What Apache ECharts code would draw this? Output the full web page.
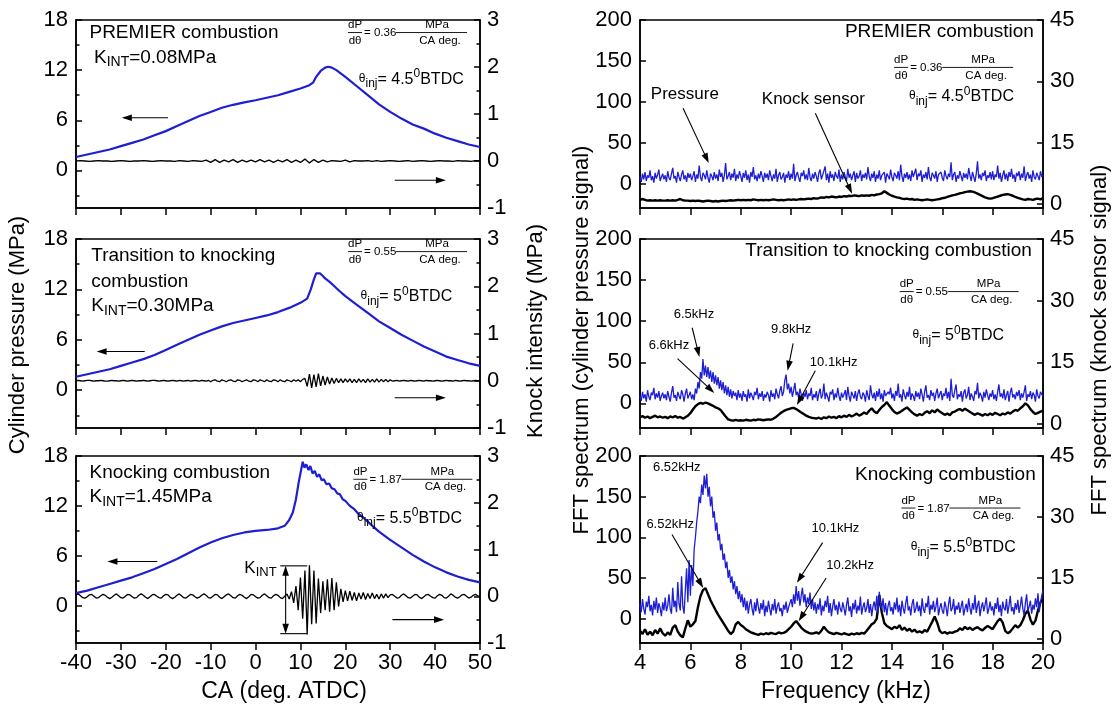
<!DOCTYPE html>
<html><head><meta charset="utf-8">
<script src="https://cdn.jsdelivr.net/npm/echarts@6/dist/echarts.min.js"></script>
<style>html,body{margin:0;padding:0;background:#fff}#c{width:1115px;height:714px}</style>
</head><body><div id="c"></div>
<script>
const FONT = 'Liberation Sans';
const BLUE = '#1e1ed2';

// ---------------- axes / ticks ----------------
const caRange = [-40, 50], caStep = 10;
const freqRange = [4, 20], freqStep = 2;
const pressureRange = [-4.5, 18];
const pressureTicks = [0, 6, 12, 18];
const pressureMinorTicks = [-3, 3, 9, 15];
const knockRange = [-1, 3], knockStep = 1;
const fftPressureRange = [-30, 200];
const fftPressureTicks = [0, 50, 100, 150, 200];
const fftKnockRange = [-1, 45];
const fftKnockTicks = [0, 15, 30, 45];

// ---------------- cylinder pressure (MPa) vs CA ----------------
const p1CA = [-40,-37.5,-35,-32.5,-30,-27.5,-25,-22.5,-20,-17.5,-15,-12.5,-10,-7.5,-5,-2.5,0,2.5,5,7.5,10,12,12.8,13.5,14.5,15.5,16.2,17,18,20,22.5,25,27.5,30,32.5,35,37.5,40,42.5,45,47.5,50];
const p1P  = [1.6,1.9,2.2,2.5,2.9,3.3,3.7,4.2,4.7,5.3,5.9,6.5,7.0,7.5,7.85,8.15,8.4,8.7,9.0,9.4,9.8,10.2,10.5,11.2,11.9,12.3,12.4,12.3,12.0,11.2,10.1,9.0,7.9,7.0,6.2,5.5,5.0,4.4,3.9,3.5,3.1,2.8];
const p2CA = [-40,-37.5,-35,-32.5,-30,-27.5,-25,-22.5,-20,-17.5,-15,-12.5,-10,-7.5,-5,-2.5,0,2.5,5,7.5,10,11.5,12.3,13,13.5,13.9,14.4,15,15.5,16.5,17.5,18.5,20,22.5,25,27.5,30,32.5,35,37.5,40,42.5,45,47.5,50];
const p2P  = [1.6,1.9,2.2,2.5,2.9,3.3,3.7,4.2,4.8,5.4,6.0,6.6,7.1,7.6,8.0,8.3,8.6,8.9,9.3,9.8,10.4,10.9,12.0,13.2,13.9,14.1,13.9,13.6,13.3,12.9,12.4,11.9,11.2,10.2,9.2,8.2,7.4,6.6,5.9,5.2,4.6,4.0,3.6,3.2,2.9];
const p3CA = [-40,-37.5,-35,-32.5,-30,-27.5,-25,-22.5,-20,-17.5,-15,-12.5,-10,-7.5,-5,-2.5,0,2.5,5,6.5,7.5,8.3,9,9.6,10.1,10.5,10.9,11.3,11.8,12.2,12.7,13.2,13.7,14.2,14.7,15.2,15.8,16.4,17,17.6,18.2,18.8,19.4,20,21,22,23,24,25,26,27.5,29,30,32.5,35,37.5,40,42.5,45,47.5,50];
const p3P  = [1.5,1.8,2.2,2.6,3.0,3.4,3.9,4.4,5.0,5.6,6.3,7.0,7.6,8.1,8.5,8.8,9.0,9.1,9.3,9.6,10.3,11.2,12.8,14.8,16.2,17.3,16.6,17.0,16.3,16.8,15.9,16.2,15.5,15.8,15.1,15.2,14.6,14.7,14.1,14.0,13.5,13.4,12.8,12.6,12.0,11.6,11.0,10.6,10.1,9.6,8.9,8.3,7.9,7.0,6.1,5.3,4.6,4.0,3.5,3.1,2.8];

// ---------------- knock intensity (MPa) vs CA ----------------
const knock1Start = -40, knock1Step = 1;
const knock1 = [0,.01,0,-.01,0,.01,0,0,-.01,0,.01,0,-.01,0,0,.01,0,-.01,0,.01,0,0,-.01,.01,0,-.01,.01,0,-.01,.02,
 -.03,.03,-.03,.02,-.02,.03,-.03,.02,-.02,.02,-.02,.03,-.02,.02,-.03,.02,-.02,.03,-.03,.02,-.03,.04,-.04,.03,-.03,.02,-.02,
 .01,0,-.01,.02,-.02,.01,0,0,.01,-.01,.01,-.01,0,.01,0,-.01,0,.01,-.01,0,.01,0,-.01,0,.01,0,0,-.01,.01,0,0,-.01,.01,0];
const knock2Start = -40, knock2Step = 0.5;
const knock2 = [0,.01,0,-.01,0,.01,.01,0,-.01,0,0,.01,0,-.01,-.01,0,.01,0,0,-.01,
 0,.01,0,-.01,0,.01,0,-.01,0,0,.01,0,-.01,0,.01,.01,0,-.01,0,.01,
 0,-.01,0,.01,0,-.01,.01,0,-.01,0,.01,-.01,0,.01,0,-.01,.01,0,-.01,.01,
 -.02,.01,.02,-.01,-.02,.02,0,-.02,.01,.02,-.01,-.02,.02,.01,-.02,0,.02,-.01,-.02,.02,
 .01,-.02,.02,0,-.02,.02,-.01,-.02,.02,.01,-.02,.02,-.01,-.02,.02,0,-.02,.02,-.01,.02,
 -.02,.03,.05,-.12,.14,-.15,.13,-.13,.15,-.11,.1,-.09,.08,-.07,.06,-.06,.05,-.04,.04,-.04,
 .04,-.03,.04,-.04,.03,-.04,.04,-.03,.03,-.04,.04,-.03,.03,-.03,.04,-.03,.03,-.02,.03,-.02,
 .02,-.01,0,.01,-.01,0,.01,0,-.01,.01,0,-.01,0,.01,0,-.01,.01,0,0,-.01,
 0,.01,0,-.01,0,.01,0,0,-.01,.01,0,-.01,0,.01,0,0,-.01,0,.01,0,0];
const knock3Start = -40, knock3Step = 0.5;
const knock3 = [.03,.05,.01,-.03,-.04,-.01,.03,.04,0,-.04,-.03,.01,.04,.02,-.02,-.05,-.02,.02,.05,.01,
 -.03,-.04,0,.04,.03,-.01,-.04,-.03,.02,.05,.02,-.02,-.05,-.01,.03,.04,0,-.03,-.04,.01,
 .04,.03,-.02,-.05,-.02,.02,.05,.01,-.03,-.04,0,.04,.03,-.01,-.04,-.02,.02,.05,.02,-.03,
 -.04,0,.04,.03,-.02,-.05,-.01,.03,.05,.01,-.03,-.04,.01,.04,.02,-.02,-.05,-.01,.04,.03,
 -.01,-.04,-.03,.02,.05,.01,-.03,-.04,.01,.04,.02,-.03,-.05,0,.05,-.06,.1,-.14,.22,-.3,
 .4,-.48,.55,-.82,.66,-.6,.55,-.58,.38,-.36,.32,-.3,.36,-.33,.39,-.3,.3,-.22,.16,-.12,
 .12,-.1,.11,-.09,.08,-.1,.07,-.06,.08,-.07,.06,-.05,.07,-.05,.04,-.06,.05,-.04,.05,-.03,
 .03,.04,0,-.04,-.03,.02,.05,.01,-.03,-.04,0,.04,.03,-.02,-.05,-.01,.03,.04,0,-.03,
 -.04,.01,.04,.02,-.03,-.04,0,.05,.02,-.02,-.04,-.01,.03,.04,0,-.04,-.02,.02,.04,.01,0];

// ---------------- FFT spectra vs frequency (kHz) ----------------
// cylinder pressure signal: 4..20 kHz, step 0.05
const fftPressStart = 4, fftPressStep = 0.05;
const fftPress1 = [
 8,2,12,5,14,3,10,7,16,4,9,1,13,6,11,17,3,8,12,5,
 10,2,15,7,4,12,19,6,9,1,14,8,3,11,16,5,10,2,13,7,
 12,4,9,15,2,11,6,22,8,3,13,10,5,16,7,1,12,9,4,14,
 6,11,3,17,8,13,2,10,25,5,9,14,4,12,7,18,3,11,6,15,
 9,2,13,7,16,4,11,1,14,8,20,5,10,3,12,6,15,9,2,13,
 7,12,4,16,9,3,11,6,18,2,10,14,5,8,13,1,11,7,15,4,
 12,6,24,3,10,14,7,2,13,9,16,5,11,4,19,8,3,12,6,14,
 9,2,13,17,5,10,8,21,4,12,1,15,7,11,3,14,9,6,17,2,
 11,5,14,8,3,18,7,12,4,10,15,2,13,6,9,16,3,11,7,13,
 5,20,9,3,12,7,15,2,11,6,16,4,10,8,14,1,12,9,5,17,
 8,3,13,10,6,15,4,23,9,2,12,7,14,5,11,3,16,8,6,18,
 4,12,9,16,2,11,7,14,5,20,8,3,13,10,6,15,2,11,9,14,
 7,3,16,9,5,12,8,26,4,11,14,2,10,6,15,9,3,13,7,12,
 5,19,10,3,14,8,2,12,27,6,11,4,13,9,16,3,10,7,14,5,
 15,4,11,8,22,6,13,2,10,16,5,12,3,14,8,18,6,11,2,13,
 9,15,4,12,7,21,3,10,14,6,11,2,16,8,5,13,9,4,15,8,
 10];
const fftPress2 = [
 9,3,14,6,11,2,16,8,4,13,10,19,5,12,7,15,3,9,13,6,
 11,4,15,8,2,13,21,7,10,3,14,9,5,16,11,2,12,18,6,10,
 14,5,11,4,18,12,26,18,38,30,54,34,46,32,44,30,40,26,38,24,
 34,22,32,18,28,16,26,12,22,10,20,8,17,6,15,9,13,4,16,7,
 12,3,15,8,11,2,17,6,13,9,4,14,10,19,5,12,8,15,3,11,
 7,14,10,2,16,8,12,5,18,11,6,15,21,9,14,28,35,17,24,12,
 20,8,16,25,10,14,6,18,11,3,13,8,16,5,12,9,19,4,11,7,
 15,3,12,18,6,10,24,5,13,8,2,14,11,17,4,12,7,19,9,3,
 13,7,11,16,4,20,9,2,14,10,6,15,3,12,17,8,5,13,10,2,
 16,9,4,22,11,6,13,3,15,8,18,5,12,2,16,9,7,14,11,19,
 6,12,3,15,9,24,7,11,2,17,10,5,14,8,20,4,12,9,3,15,
 8,13,5,18,11,2,14,22,7,10,4,16,9,13,3,12,18,6,11,15,
 4,12,9,19,6,14,3,30,10,7,16,23,5,11,8,15,2,13,17,6,
 10,20,4,12,8,3,15,11,25,6,13,9,2,14,7,17,10,4,12,8,
 16,5,11,3,14,23,8,12,6,17,4,10,15,2,13,19,7,11,5,14,
 9,16,4,12,7,14,22,3,11,8,15,5,13,10,2,17,9,6,14,11,
 8];
const fftPress3 = [
 18,8,24,12,5,21,14,28,9,17,4,22,11,26,7,19,13,3,20,10,
 26,9,16,30,12,6,38,14,22,8,45,18,10,52,15,6,35,62,20,72,
 28,66,40,85,100,118,132,150,142,165,152,176,160,178,150,162,138,150,124,132,
 108,118,96,104,84,92,72,80,62,70,50,60,44,52,36,46,30,40,24,34,
 20,30,14,26,10,22,6,18,24,12,4,20,9,25,14,6,19,11,23,3,
 16,8,22,12,4,18,10,24,6,15,20,9,13,3,17,11,21,7,14,19,
 24,14,30,18,40,22,34,16,28,38,20,30,14,26,18,32,12,24,10,20,
 6,18,11,25,4,16,9,22,14,28,7,19,3,15,24,10,17,5,21,12,
 8,20,13,4,17,26,9,15,2,19,11,23,6,16,10,27,5,14,20,8,
 13,24,7,18,3,15,21,10,28,6,33,17,12,25,8,19,4,16,22,9,
 14,5,20,11,26,8,17,3,22,13,6,19,28,10,15,4,18,24,7,12,
 21,9,16,3,25,12,7,19,14,28,5,17,11,22,8,15,26,4,13,19,
 10,6,21,14,3,18,27,9,13,24,5,16,11,20,7,15,22,4,12,18,
 8,25,13,5,19,11,29,7,16,22,3,14,20,9,17,26,6,12,21,10,
 15,4,19,12,26,8,17,3,21,13,10,24,6,16,28,9,14,5,19,11,
 23,7,16,27,12,4,19,30,9,15,22,6,17,11,25,14,31,8,20,28,
 35];
// knock sensor signal: 4..20 kHz, step 0.1
const fftKnockStart = 4, fftKnockStep = 0.1;
const fftKnock1 = [1.0,1.2,1.0,0.8,0.9,0.8,0.9,0.8,0.9,0.8, 0.8,0.9,0.8,0.9,0.8,1.0,1.2,0.9,0.8,0.8, 0.7,0.8,0.7,0.8,0.7,0.6,0.7,0.8,0.7,0.6,
 0.7,0.6,0.7,0.8,0.7,0.8,0.9,0.8,0.9,1.0, 0.9,1.0,0.9,1.0,0.9,1.1,1.0,0.9,1.0,0.9, 1.0,0.9,1.0,1.1,1.0,0.9,1.0,0.9,1.0,1.1,
 1.0,1.1,1.0,1.1,1.2,1.1,1.2,1.3,1.2,1.4, 1.3,1.4,1.6,1.5,1.7,1.6,1.8,1.7,1.6,1.8, 1.7,1.9,1.8,2.0,1.9,2.1,2.0,1.9,2.1,2.0,
 2.1,2.0,2.2,2.1,2.3,2.4,2.6,3.1,2.7,2.3, 2.0,1.8,1.6,1.5,1.3,1.2,1.3,1.1,1.2,1.0, 1.1,1.0,0.9,1.0,1.1,1.0,0.9,1.0,1.1,1.2,
 1.4,1.5,1.7,1.9,2.1,2.2,2.4,2.6,2.7,2.9, 3.0,3.1,3.0,2.8,2.5,2.2,1.9,1.6,1.4,1.3, 1.4,1.6,1.8,2.0,2.2,2.3,2.4,2.2,2.0,1.7,
 1.5,1.3,1.1,1.0,1.2,1.1,1.0,1.2,1.3,1.1, 1.5];
const fftKnock2 = [1.6,1.9,1.5,1.8,1.4,1.7,2.0,1.6,1.8,1.5, 1.7,1.4,1.8,1.6,1.9,1.5,1.7,1.3,1.6,2.0, 2.6,3.5,4.3,4.8,5.1,4.9,5.2,5.0,4.7,4.4,
 4.0,3.8,3.4,2.6,1.8,1.1,0.9,0.8,1.0,0.8, 0.9,0.8,1.0,0.9,0.8,1.0,0.9,1.1,1.0,0.9, 1.0,1.1,1.0,1.3,1.7,2.2,2.7,3.1,3.4,3.6,
 3.8,3.9,3.6,3.2,2.8,2.4,2.0,1.7,1.5,1.4, 1.3,1.5,1.2,1.6,1.4,1.8,1.5,1.7,1.4,1.9, 1.6,2.0,1.7,2.2,1.8,2.1,2.5,2.0,2.3,2.8,
 2.4,3.2,3.8,3.0,2.6,3.4,4.1,4.6,5.3,4.4, 3.6,2.9,2.5,2.8,3.2,3.6,4.0,3.4,2.8,2.3, 2.0,2.4,2.1,2.7,3.1,2.6,3.3,2.8,3.5,3.0,
 2.6,2.2,2.5,2.1,2.8,3.0,3.4,3.6,3.2,3.7, 3.3,2.9,2.5,2.2,2.6,2.3,2.0,2.4,2.1,2.5, 2.2,2.7,2.4,2.1,2.5,2.3,2.8,2.5,3.0,3.4,
 3.2,3.8,4.3,5.0,4.5,3.6,2.9,2.4,2.7,3.0, 3.2];
const fftKnock3 = [2.0,1.2,2.4,1.0,1.8,0.9,2.2,1.3,2.6,1.4, 0.8,1.6,1.0,2.8,3.4,1.8,0.9,0.4,2.6,4.6, 3.0,3.6,4.4,7.8,10.5,12.0,12.5,11.0,9.5,8.3,
 7.1,6.0,5.0,4.0,3.0,2.0,1.2,1.8,3.6,4.2, 3.4,3.0,2.4,2.0,1.6,1.4,1.2,1.0,1.3,1.1, 1.4,1.2,1.5,1.3,1.2,1.6,1.4,1.5,1.8,2.4,
 3.0,3.8,4.4,3.6,2.8,2.2,1.8,1.5,1.3,1.4, 1.6,1.3,2.0,3.0,2.2,1.6,1.4,1.2,1.5,1.3, 1.1,1.4,1.2,1.0,1.3,1.1,1.4,1.2,1.5,1.3,
 2.0,2.8,3.6,4.0,5.0,10.8,6.5,3.9,3.2,2.8, 2.4,3.0,2.6,3.4,2.2,2.8,2.0,2.5,1.8,2.3, 1.6,1.9,1.5,2.2,1.8,3.0,4.2,5.5,4.0,2.0,
 1.4,1.7,1.3,1.6,1.5,1.8,2.0,2.6,2.2,3.0, 2.4,2.8,2.2,2.6,2.9,2.4,2.1,2.7,3.2,2.8, 2.4,3.4,4.4,5.0,4.0,2.0,1.4,1.8,2.6,3.4,
 2.8,3.4,4.6,6.2,7.0,4.8,3.5,4.5,7.0,9.0, 10.0];

// ---------------- texts ----------------
const leftTitles = [['PREMIER combustion'], ['Transition to knocking', 'combustion'], ['Knocking combustion']];
const rightTitles = ['PREMIER combustion', 'Transition to knocking combustion', 'Knocking combustion'];
const kintValues = ['0.08', '0.30', '1.45'];
const slopeValues = ['0.36', '0.55', '1.87'];
const injValues = ['4.5', '5', '5.5'];

// ---------------- build chart ----------------
const pairs = (xs, ys) => xs.map((x, i) => [x, ys[i]]);
const gridPairs = (start, step, ys) => ys.map((v, i) => [+(start + i * step).toFixed(3), v]);

const rows = [{top: 20, height: 188}, {top: 239, height: 189}, {top: 456, height: 187}];
const cols = [{left: 76, width: 404}, {left: 640, width: 403}];
const leftData = [
  {p: pairs(p1CA, p1P), k: gridPairs(knock1Start, knock1Step, knock1)},
  {p: pairs(p2CA, p2P), k: gridPairs(knock2Start, knock2Step, knock2)},
  {p: pairs(p3CA, p3P), k: gridPairs(knock3Start, knock3Step, knock3)}
];
const rightData = [
  {b: gridPairs(fftPressStart, fftPressStep, fftPress1), k: gridPairs(fftKnockStart, fftKnockStep, fftKnock1)},
  {b: gridPairs(fftPressStart, fftPressStep, fftPress2), k: gridPairs(fftKnockStart, fftKnockStep, fftKnock2)},
  {b: gridPairs(fftPressStart, fftPressStep, fftPress3), k: gridPairs(fftKnockStart, fftKnockStep, fftKnock3)}
];

const lineS = {show: true, onZero: false, lineStyle: {color: '#000', width: 1.5}};
const tickS = (len, inside, vals) => Object.assign({show: true, inside: inside, length: len, lineStyle: {color: '#000', width: 1.5}}, vals ? {customValues: vals} : {});
const labS = (show, vals, margin) => Object.assign({show: show, color: '#000', fontSize: 22, fontFamily: FONT, margin: margin}, vals ? {customValues: vals} : {});

const grids = [], xAxes = [], yAxes = [], series = [], axisMap = [];
for (let r = 0; r < 3; r++) {
  for (let c = 0; c < 2; c++) {
    const g = grids.length;
    grids.push({left: cols[c].left, top: rows[r].top, width: cols[c].width, height: rows[r].height,
      show: true, borderColor: '#000', borderWidth: 1.5, backgroundColor: 'transparent', containLabel: false, outerBoundsMode: 'none'});
    xAxes.push({type: 'value', gridIndex: g,
      min: c ? freqRange[0] : caRange[0], max: c ? freqRange[1] : caRange[1], interval: c ? freqStep : caStep,
      axisLine: lineS, axisTick: tickS(7, false), axisLabel: labS(r === 2, null, 9), splitLine: {show: false}});
    let L, R;
    if (c === 0) {
      L = yAxes.length;
      yAxes.push({type: 'value', gridIndex: g, position: 'left', min: pressureRange[0], max: pressureRange[1],
        axisLine: lineS, axisTick: tickS(6, true, pressureTicks), axisLabel: labS(true, pressureTicks, 8), splitLine: {show: false}});
      yAxes.push({type: 'value', gridIndex: g, position: 'left', min: pressureRange[0], max: pressureRange[1],
        axisLine: {show: false, onZero: false}, axisTick: tickS(3.5, true, pressureMinorTicks), axisLabel: {show: false}, splitLine: {show: false}});
      R = yAxes.length;
      yAxes.push({type: 'value', gridIndex: g, position: 'right', min: knockRange[0], max: knockRange[1], interval: knockStep,
        axisLine: lineS, axisTick: tickS(6, true), minorTick: {show: true, splitNumber: 2, length: 3.5, lineStyle: {color: '#000', width: 1.5}},
        axisLabel: labS(true, null, 7), splitLine: {show: false}, minorSplitLine: {show: false}});
      series.push({type: 'line', xAxisIndex: g, yAxisIndex: L, data: leftData[r].p, showSymbol: false, symbol: 'none',
        lineStyle: {color: BLUE, width: 2.2}, itemStyle: {color: BLUE}, silent: true, z: 3});
      series.push({type: 'line', xAxisIndex: g, yAxisIndex: R, data: leftData[r].k, showSymbol: false, symbol: 'none',
        lineStyle: {color: '#000', width: 1.3}, itemStyle: {color: '#000'}, silent: true, z: 4});
    } else {
      L = yAxes.length;
      yAxes.push({type: 'value', gridIndex: g, position: 'left', min: fftPressureRange[0], max: fftPressureRange[1],
        axisLine: lineS, axisTick: tickS(6, true, fftPressureTicks), axisLabel: labS(true, fftPressureTicks, 8), splitLine: {show: false}});
      R = yAxes.length;
      yAxes.push({type: 'value', gridIndex: g, position: 'right', min: fftKnockRange[0], max: fftKnockRange[1],
        axisLine: lineS, axisTick: tickS(6, true, fftKnockTicks), axisLabel: labS(true, fftKnockTicks, 7), splitLine: {show: false}});
      series.push({type: 'line', xAxisIndex: g, yAxisIndex: R, data: rightData[r].k, showSymbol: false, symbol: 'none',
        lineStyle: {color: '#000', width: 2.4}, itemStyle: {color: '#000'}, silent: true, z: 3});
      series.push({type: 'line', xAxisIndex: g, yAxisIndex: L, data: rightData[r].b, showSymbol: false, symbol: 'none',
        lineStyle: {color: BLUE, width: 1.3}, itemStyle: {color: BLUE}, silent: true, z: 4});
    }
    axisMap.push({L: L, R: R});
  }
}

const chart = echarts.init(document.getElementById('c'), null, {renderer: 'canvas'});
chart.setOption({backgroundColor: '#fff', animation: false, grid: grids, xAxis: xAxes, yAxis: yAxes, series: series});

// ---------------- annotations ----------------
const G = [];
const px = (g, x, y, side) => chart.convertToPixel({xAxisIndex: g, yAxisIndex: side === 'R' ? axisMap[g].R : axisMap[g].L}, [x, y]);
const richDef = (s) => ({
  n: {fontSize: s, fontFamily: FONT, fill: '#000'},
  sub: {fontSize: Math.round(s * 0.74), fontFamily: FONT, fill: '#000', padding: [Math.round(s * 0.55), 0, 0, 0]},
  sup: {fontSize: Math.round(s * 0.74), fontFamily: FONT, fill: '#000', padding: [0, 0, Math.round(s * 0.7), 0]},
  th: {fontSize: Math.round(s * 0.72), fontFamily: FONT, fill: '#000', padding: [0, 0, 2, 0]}
});
function text(x, y, s, size, align, rich) {
  G.push({type: 'text', x: x, y: y, silent: true, z: 100,
    style: {text: s, fontSize: size, fontFamily: FONT, fill: '#000', align: align || 'left', verticalAlign: 'middle', rich: rich ? richDef(size) : undefined}});
}
function hline(x1, x2, y, w) {
  G.push({type: 'line', silent: true, z: 100, shape: {x1: x1, y1: y, x2: x2, y2: y}, style: {stroke: '#000', lineWidth: w || 0.9}});
}
function arrow(p1, p2, both) {
  const dx = p2[0] - p1[0], dy = p2[1] - p1[1], len = Math.hypot(dx, dy);
  const ux = dx / len, uy = dy / len, nx = -uy, ny = ux, hl = 10, hw = 3.3;
  const head = (p, sx) => ({type: 'polygon', silent: true, z: 100,
    shape: {points: [[p[0], p[1]], [p[0] - sx * ux * hl + nx * hw, p[1] - sx * uy * hl + ny * hw], [p[0] - sx * ux * hl - nx * hw, p[1] - sx * uy * hl - ny * hw]]},
    style: {fill: '#000'}});
  G.push({type: 'line', silent: true, z: 100, shape: {x1: p1[0] + (both ? ux * 6 : 0), y1: p1[1] + (both ? uy * 6 : 0), x2: p2[0] - ux * 6, y2: p2[1] - uy * 6}, style: {stroke: '#000', lineWidth: 1.1}});
  G.push(head(p2, 1));
  if (both) G.push(head(p1, -1));
}
function formula(p, val) {
  const x0 = p[0], yc = p[1], fs = 11.5;
  text(x0 + 7, yc - 7.5, 'dP', fs, 'center');
  hline(x0, x0 + 14, yc);
  text(x0 + 7, yc + 8, 'dθ', fs, 'center');
  text(x0 + 16, yc + 0.5, '= ' + val, fs, 'left');
  hline(x0 + 48, x0 + 119, yc);
  text(x0 + 89, yc - 7.5, 'MPa', fs, 'center');
  text(x0 + 92, yc + 8, 'CA deg.', fs, 'center');
}
const inj = (v) => '{th|θ}{sub|inj}{n|= ' + v + '}{sup|0}{n|BTDC}';
const kint = (v) => '{n|K}{sub|INT}{n|=' + v + 'MPa}';

// left column
const leftAnn = [
  {title: [[-37, 16.5]], k: [-36, 13.5], f: [20.6, 16.5], th: [23, 10.9], la: [[-19.5, 6.3], [-29.8, 6.3]], ra: [[31, -0.41], [42.4, -0.41]]},
  {title: [[-36.6, 16.0], [-36.6, 12.9]], k: [-36.6, 10.0], f: [20.6, 16.5], th: [23.4, 11.1], la: [[-24.7, 4.6], [-35.4, 4.6]], ra: [[31, -0.36], [42.4, -0.36]]},
  {title: [[-37, 16.0]], k: [-37, 13.1], f: [21.8, 15.2], th: [22.6, 10.5], la: [[-21.9, 5.3], [-33, 5.3]], ra: [[30.5, -0.5], [42, -0.5]]}
];
leftAnn.forEach((a, r) => {
  const g = r * 2;
  a.title.forEach((t, i) => { const p = px(g, t[0], t[1]); text(p[0], p[1], leftTitles[r][i], 19); });
  let p = px(g, a.k[0], a.k[1]); text(p[0], p[1], kint(kintValues[r]), 19, 'left', true);
  formula(px(g, a.f[0], a.f[1]), slopeValues[r]);
  p = px(g, a.th[0], a.th[1]); text(p[0], p[1], inj(injValues[r]), 16, 'left', true);
  arrow(px(g, a.la[0][0], a.la[0][1]), px(g, a.la[1][0], a.la[1][1]));
  arrow(px(g, a.ra[0][0], a.ra[0][1], 'R'), px(g, a.ra[1][0], a.ra[1][1], 'R'));
});
// K_INT bracket (panel 3)
{
  const g = 4;
  const t1 = px(g, 5.5, 0.65, 'R'), t2 = px(g, 11.5, 0.65, 'R');
  const b1 = px(g, 5.5, -0.8, 'R'), b2 = px(g, 11.5, -0.8, 'R');
  hline(t1[0], t2[0], t1[1], 1.1); hline(b1[0], b2[0], b1[1], 1.1);
  arrow(px(g, 6.7, -0.8, 'R'), px(g, 6.7, 0.65, 'R'), true);
  const lp = px(g, 4.7, 0.6, 'R');
  text(lp[0], lp[1], '{n|K}{sub|INT}', 17, 'right', true);
}

// right column
const rightAnn = [
  {title: [19.64, 186], f: [14.09, 142], th: [14.68, 106],
   labels: [['Pressure', 5.78, 108.8, 17], ['Knock sensor', 10.88, 102.5, 17]],
   arrows: [[[5.71, 92], [6.73, 25]], [[10.96, 85.8], [12.42, -12.6]]]},
  {title: [19.56, 186], f: [14.31, 136], th: [14.82, 82],
   labels: [['6.5kHz', 6.14, 108.8, 13], ['6.6kHz', 5.15, 71, 13], ['9.8kHz', 10.0, 90, 13], ['10.1kHz', 11.69, 50.2, 13]],
   arrows: [[[6.07, 92], [6.36, 56.5]], [[5.49, 54.4], [6.95, 12.6]], [[10.08, 73], [9.86, 39.7]], [[10.96, 39.7], [10.23, -2]]]},
  {title: [19.71, 177], f: [14.38, 136], th: [14.75, 87],
   labels: [['6.52kHz', 5.46, 185.6, 13], ['6.52kHz', 5.2, 116, 13], ['10.1kHz', 11.76, 111, 13], ['10.2kHz', 12.34, 65.7, 13]],
   arrows: [[[5.27, 103.5], [6.51, 37.8]], [[11.25, 93.4], [10.23, 44]], [[11.39, 50], [10.3, -3.3]]]}
];
rightAnn.forEach((a, r) => {
  const g = r * 2 + 1;
  let p = px(g, a.title[0], a.title[1]); text(p[0], p[1], rightTitles[r], 19, 'right');
  formula(px(g, a.f[0], a.f[1]), slopeValues[r]);
  p = px(g, a.th[0], a.th[1]); text(p[0], p[1], inj(injValues[r]), 16, 'left', true);
  a.labels.forEach(l => { const q = px(g, l[1], l[2]); text(q[0], q[1], l[0], l[3], 'center'); });
  a.arrows.forEach(ar => arrow(px(g, ar[0][0], ar[0][1]), px(g, ar[1][0], ar[1][1])));
});

// axis titles
function vtitle(x, y, s) {
  G.push({type: 'text', x: x, y: y, rotation: Math.PI / 2, silent: true, z: 100,
    style: {text: s, fontSize: 22, fontFamily: FONT, fill: '#000', align: 'center', verticalAlign: 'middle'}});
}
vtitle(18, 335, 'Cylinder pressure (MPa)');
vtitle(536, 331, 'Knock intensity (MPa)');
vtitle(582, 340, 'FFT spectrum (cylinder pressure signal)');
vtitle(1100, 340, 'FFT spectrum (knock sensor signal)');
text(284, 692, 'CA (deg. ATDC)', 23, 'center');
text(846, 692, 'Frequency (kHz)', 23, 'center');

chart.setOption({graphic: {elements: G}});
</script></body></html>
